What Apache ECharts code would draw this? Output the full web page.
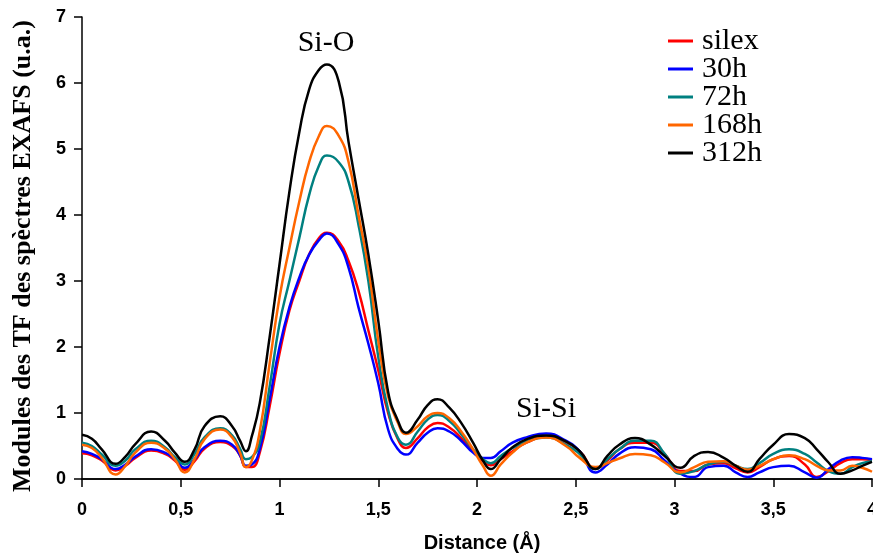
<!DOCTYPE html>
<html>
<head>
<meta charset="utf-8">
<script src="https://cdn.jsdelivr.net/npm/echarts@6/dist/echarts.min.js"></script>
<style>html,body{margin:0;padding:0;background:#fff;}#c{width:873px;height:556px;}</style>
</head>
<body>
<div id="c"></div>
<script>
// Distance axis samples (Å)
const distances = [0, 0.05, 0.1, 0.17, 0.22, 0.27, 0.35, 0.42, 0.47, 0.52, 0.57, 0.62, 0.7, 0.76, 0.8, 0.83, 0.86,
  0.9, 0.95, 1.0, 1.05, 1.1, 1.15, 1.2, 1.24, 1.3, 1.35, 1.4, 1.45, 1.5, 1.55, 1.6,
  1.64, 1.7, 1.75, 1.8, 1.86, 1.92, 1.98, 2.03, 2.07, 2.12, 2.18, 2.25,
  2.35, 2.45, 2.52, 2.6, 2.66, 2.72, 2.8, 2.88, 2.95, 3.03, 3.1, 3.17, 3.25, 3.31, 3.37, 3.43, 3.5, 3.58, 3.66, 3.72, 3.78, 3.84, 3.9, 3.95, 4.0];

const silex = [0.39, 0.36, 0.28, 0.13, 0.2, 0.32, 0.43, 0.38, 0.28, 0.14, 0.27, 0.46, 0.56, 0.5, 0.36, 0.18, 0.18,
  0.4, 1.1, 1.9, 2.55, 3.0, 3.4, 3.65, 3.73, 3.6, 3.3, 2.85, 2.25, 1.65, 1.0, 0.6,
  0.47, 0.62, 0.78, 0.85, 0.78, 0.62, 0.42, 0.27, 0.21, 0.3, 0.42, 0.55,
  0.64, 0.56, 0.42, 0.16, 0.28, 0.45, 0.55, 0.55, 0.38, 0.12, 0.12, 0.22, 0.24, 0.16, 0.1, 0.18, 0.3, 0.35, 0.22, 0.03, 0.12, 0.24, 0.3, 0.3, 0.28];

const h30 = [0.42, 0.38, 0.3, 0.15, 0.22, 0.34, 0.45, 0.4, 0.3, 0.17, 0.3, 0.48, 0.58, 0.52, 0.36, 0.2, 0.22,
  0.45, 1.2, 2.0, 2.6, 3.05, 3.4, 3.62, 3.72, 3.55, 3.2, 2.6, 2.05, 1.45, 0.75, 0.45,
  0.37, 0.55, 0.7, 0.77, 0.72, 0.58, 0.4, 0.32, 0.32, 0.42, 0.55, 0.63,
  0.69, 0.58, 0.42, 0.1, 0.22, 0.38, 0.48, 0.45, 0.28, 0.08, 0.03, 0.18, 0.2, 0.1, 0.03, 0.1, 0.18, 0.2, 0.1, 0.02, 0.15, 0.28, 0.33, 0.32, 0.3];

const h72 = [0.55, 0.5, 0.37, 0.2, 0.28, 0.45, 0.58, 0.48, 0.33, 0.22, 0.38, 0.63, 0.77, 0.66, 0.46, 0.3, 0.33,
  0.55, 1.4, 2.35, 3.0, 3.65, 4.3, 4.75, 4.9, 4.8, 4.5, 3.85, 3.0, 1.85, 1.05, 0.62,
  0.52, 0.72, 0.9, 0.97, 0.88, 0.68, 0.45, 0.3, 0.24, 0.35, 0.47, 0.57,
  0.63, 0.52, 0.38, 0.15, 0.3, 0.45, 0.58, 0.58, 0.38, 0.08, 0.12, 0.22, 0.26, 0.2, 0.15, 0.24, 0.38, 0.45, 0.38, 0.25, 0.12, 0.08, 0.18, 0.24, 0.27];

const h168 = [0.52, 0.47, 0.32, 0.07, 0.2, 0.4, 0.55, 0.46, 0.3, 0.1, 0.3, 0.6, 0.75, 0.63, 0.4, 0.18, 0.28,
  0.72, 1.75, 2.75, 3.5, 4.2, 4.8, 5.2, 5.35, 5.2, 4.8, 4.0, 3.2, 2.1, 1.25, 0.85,
  0.68, 0.8, 0.95, 1.0, 0.92, 0.72, 0.45, 0.2, 0.05, 0.22, 0.4, 0.55,
  0.63, 0.5, 0.32, 0.18, 0.24, 0.31, 0.38, 0.36, 0.25, 0.1, 0.18, 0.26, 0.27, 0.2, 0.14, 0.2, 0.3, 0.36, 0.3, 0.2, 0.13, 0.13, 0.2, 0.17, 0.11];

const h312 = [0.67, 0.61, 0.45, 0.23, 0.34, 0.53, 0.72, 0.58, 0.4, 0.26, 0.45, 0.8, 0.95, 0.8, 0.58, 0.42, 0.65,
  1.15, 2.15, 3.25, 4.35, 5.25, 5.9, 6.2, 6.28, 6.02, 5.1, 4.25, 3.4, 2.4, 1.32, 0.88,
  0.7, 0.9, 1.12, 1.21, 1.08, 0.85, 0.55, 0.28, 0.15, 0.3, 0.48, 0.6,
  0.66, 0.57, 0.42, 0.15, 0.35, 0.52, 0.62, 0.52, 0.35, 0.17, 0.35, 0.41, 0.32, 0.2, 0.11, 0.3, 0.52, 0.68, 0.62, 0.45, 0.25, 0.08, 0.13, 0.2, 0.26];

const seriesNames = ['silex', '30h', '72h', '168h', '312h'];
const seriesValues = [silex, h30, h72, h168, h312];
const seriesColors = ['#ff0000', '#0000ff', '#008080', '#ff6600', '#000000'];

const xTickInterval = 0.5;
const yTickInterval = 1;
const xTitle = 'Distance (Å)';
const yTitle = 'Modules des TF des spèctres EXAFS (u.a.)';
const annotations = [{ text: 'Si-O', x: 326, y: 43 }, { text: 'Si-Si', x: 546, y: 409 }];

const chart = echarts.init(document.getElementById('c'), null, { renderer: 'canvas' });

const series = seriesNames.map((name, k) => ({
  name: name,
  type: 'line',
  xAxisIndex: 0,
  yAxisIndex: 0,
  data: distances.map((d, i) => [d, seriesValues[k][i]]),
  smooth: 0.5,
  symbol: 'none',
  showSymbol: false,
  lineStyle: { color: seriesColors[k], width: 2.5 },
  itemStyle: { color: seriesColors[k] },
  z: 2 + k
}));

const labelFont = { color: '#000', fontFamily: 'Liberation Sans, Arial, sans-serif', fontWeight: 'bold', fontSize: 18 };

chart.setOption({
  animation: false,
  backgroundColor: '#fff',
  grid: { left: 82, right: 1, top: 17, bottom: 77, containLabel: false, outerBoundsMode: 'none' },
  legend: {
    data: seriesNames,
    orient: 'vertical',
    left: 663,
    top: 21,
    itemWidth: 25,
    itemHeight: 3,
    itemGap: -2,
    icon: 'rect',
    textStyle: { color: '#000', fontFamily: 'Liberation Serif, Times New Roman, serif', fontSize: 30, padding: [0, 0, 0, 4] }
  },
  xAxis: [{
    type: 'value',
    min: 0,
    max: 4,
    interval: xTickInterval,
    position: 'bottom',
    axisLine: { show: true, onZero: false, lineStyle: { color: '#000', width: 1.5 } },
    axisTick: { show: true, length: 8, inside: false, lineStyle: { color: '#000', width: 1.5 } },
    axisLabel: Object.assign({ margin: 22, formatter: v => String(v).replace('.', ',') }, labelFont),
    splitLine: { show: false }
  }, {
    type: 'value',
    min: 0,
    max: 4,
    position: 'top',
    axisLine: { show: true, lineStyle: { color: '#000', width: 1.5 } },
    axisTick: { show: false },
    axisLabel: { show: false },
    splitLine: { show: false }
  }],
  yAxis: [{
    type: 'value',
    min: 0,
    max: 7,
    interval: yTickInterval,
    axisLine: { show: true, lineStyle: { color: '#000', width: 1.5 } },
    axisTick: { show: true, length: 8, inside: false, lineStyle: { color: '#000', width: 1.5 } },
    axisLabel: Object.assign({ margin: 16 }, labelFont),
    splitLine: { show: false }
  }],
  graphic: [
    {
      type: 'text', x: 482, y: 543,
      style: { text: xTitle, fill: '#000', font: 'bold 20px "Liberation Sans", Arial, sans-serif', textAlign: 'center', textVerticalAlign: 'middle' }
    },
    {
      type: 'text', x: 23, y: 256, rotation: Math.PI / 2,
      style: { text: yTitle, fill: '#000', font: 'bold 26px "Liberation Serif", "Times New Roman", serif', textAlign: 'center', textVerticalAlign: 'middle' }
    }
  ].concat(annotations.map(a => ({
    type: 'text', x: a.x, y: a.y,
    style: { text: a.text, fill: '#000', font: '30px "Liberation Serif", "Times New Roman", serif', textAlign: 'center', textVerticalAlign: 'middle' }
  }))),
  series: series
});
</script>
</body>
</html>
